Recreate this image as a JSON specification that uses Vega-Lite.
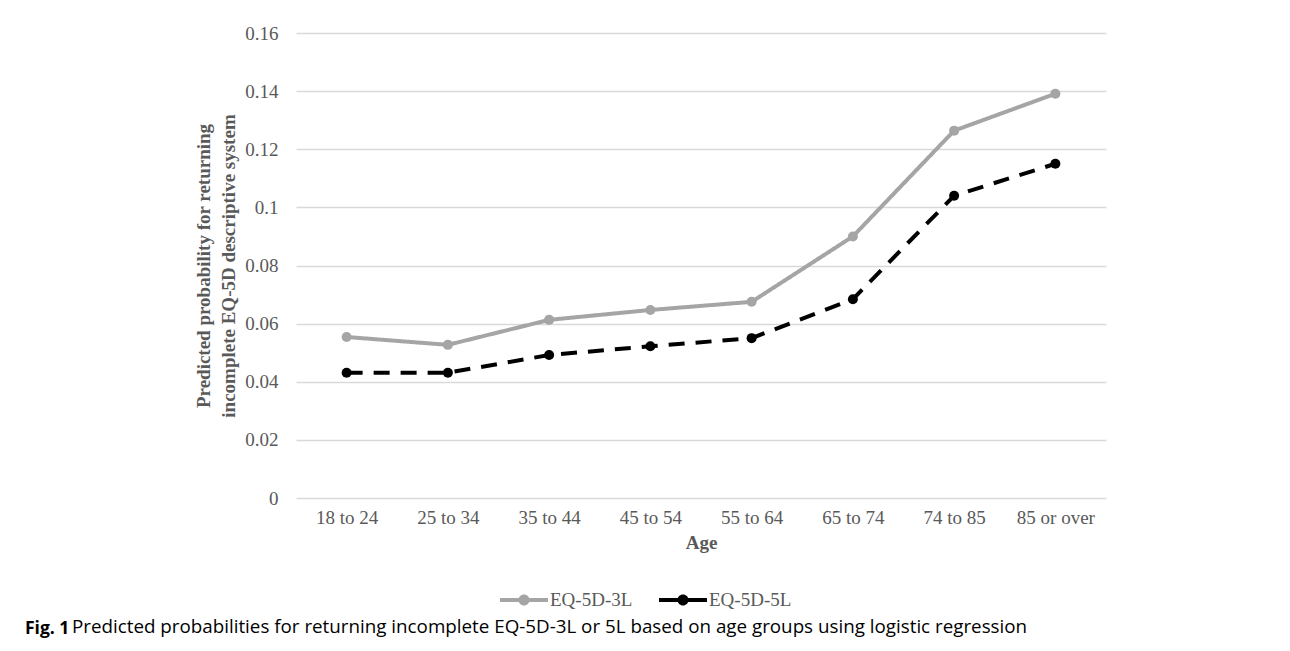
{
  "$schema": "https://vega.github.io/schema/vega-lite/v6.json",
  "autosize": {"type": "none"},
  "width": 810,
  "height": 465,
  "padding": {"left": 296, "top": 33, "right": 184, "bottom": 153},
  "background": "white",
  "config": {"view": {"stroke": null}, "font": "Liberation Serif"},
  "title": {
    "text": "Fig. 1",
    "subtitle": "\u200b\u2003\u2003\u2002Predicted probabilities for returning incomplete EQ-5D-3L or 5L based on age groups using logistic regression",
    "orient": "bottom",
    "anchor": "start",
    "frame": "group",
    "dx": -271,
    "offset": 10,
    "font": "Open Sans",
    "fontSize": 17.5,
    "fontWeight": "bold",
    "color": "#000000",
    "subtitleFont": "Open Sans",
    "subtitleFontSize": 18.8,
    "subtitleColor": "#000000",
    "subtitlePadding": -20
  },
  "data": {
    "values": [
      {"age": "18 to 24", "series": "EQ-5D-3L", "value": 0.0554},
      {"age": "25 to 34", "series": "EQ-5D-3L", "value": 0.0527},
      {"age": "35 to 44", "series": "EQ-5D-3L", "value": 0.0613},
      {"age": "45 to 54", "series": "EQ-5D-3L", "value": 0.0647},
      {"age": "55 to 64", "series": "EQ-5D-3L", "value": 0.0675},
      {"age": "65 to 74", "series": "EQ-5D-3L", "value": 0.0900},
      {"age": "74 to 85", "series": "EQ-5D-3L", "value": 0.1264},
      {"age": "85 or over", "series": "EQ-5D-3L", "value": 0.1391},
      {"age": "18 to 24", "series": "EQ-5D-5L", "value": 0.0431},
      {"age": "25 to 34", "series": "EQ-5D-5L", "value": 0.0431},
      {"age": "35 to 44", "series": "EQ-5D-5L", "value": 0.0492},
      {"age": "45 to 54", "series": "EQ-5D-5L", "value": 0.0522},
      {"age": "55 to 64", "series": "EQ-5D-5L", "value": 0.0550},
      {"age": "65 to 74", "series": "EQ-5D-5L", "value": 0.0684},
      {"age": "74 to 85", "series": "EQ-5D-5L", "value": 0.1040},
      {"age": "85 or over", "series": "EQ-5D-5L", "value": 0.1150}
    ]
  },
  "encoding": {
    "x": {
      "field": "age",
      "type": "ordinal",
      "sort": ["18 to 24", "25 to 34", "35 to 44", "45 to 54", "55 to 64", "65 to 74", "74 to 85", "85 or over"],
      "scale": {"type": "point", "padding": 0.5},
      "axis": {
        "grid": false,
        "ticks": false,
        "domain": false,
        "labelAngle": 0,
        "labelFont": "Liberation Serif",
        "labelFontSize": 19,
        "labelColor": "#595959",
        "labelPadding": 10,
        "title": "Age",
        "titleFont": "Liberation Serif",
        "titleFontSize": 19,
        "titleFontWeight": "bold",
        "titleColor": "#595959",
        "titlePadding": 6
      }
    },
    "y": {
      "field": "value",
      "type": "quantitative",
      "scale": {"domain": [0, 0.16], "nice": false, "zero": true},
      "axis": {
        "values": [0, 0.02, 0.04, 0.06, 0.08, 0.1, 0.12, 0.14, 0.16],
        "format": "~g",
        "grid": true,
        "gridColor": "#d9d9d9",
        "gridWidth": 1.3,
        "domain": false,
        "ticks": false,
        "labelFont": "Liberation Serif",
        "labelFontSize": 19,
        "labelColor": "#595959",
        "labelPadding": 18,
        "title": ["Predicted probability for returning", "incomplete EQ-5D descriptive system"],
        "titleFont": "Liberation Serif",
        "titleFontSize": 19,
        "titleFontWeight": "bold",
        "titleColor": "#595959",
        "titleLineHeight": 25,
        "titlePadding": 6
      }
    },
    "color": {
      "field": "series",
      "type": "nominal",
      "scale": {"domain": ["EQ-5D-3L", "EQ-5D-5L"], "range": ["#a5a5a5", "#000000"]},
      "legend": {
        "orient": "none",
        "legendX": 204,
        "legendY": 543,
        "direction": "horizontal",
        "title": null,
        "symbolType": "M-1,-0.085H1V0.085H-1Z M0.23,0A0.23,0.23 0 1,1 -0.23,0A0.23,0.23 0 1,1 0.23,0Z",
        "symbolSize": 2304,
        "symbolStrokeWidth": 0,
        "symbolOpacity": 1,
        "labelFont": "Liberation Serif",
        "labelFontSize": 19,
        "labelColor": "#595959",
        "labelOffset": 2,
        "columnPadding": 26,
        "encode": {
          "symbols": {
            "update": {
              "fill": {"scale": "color", "field": "value"},
              "strokeDash": {"value": [1, 0]},
              "strokeWidth": {"value": 0},
              "opacity": {"value": 1}
            }
          }
        }
      }
    }
  },
  "layer": [
    {
      "mark": {"type": "line", "strokeWidth": 4},
      "encoding": {
        "strokeDash": {
          "field": "series",
          "type": "nominal",
          "scale": {"domain": ["EQ-5D-3L", "EQ-5D-5L"], "range": [[1, 0], [16, 11]]},
          "legend": null
        }
      }
    },
    {
      "mark": {"type": "point", "filled": true, "size": 100, "opacity": 1}
    }
  ]
}
